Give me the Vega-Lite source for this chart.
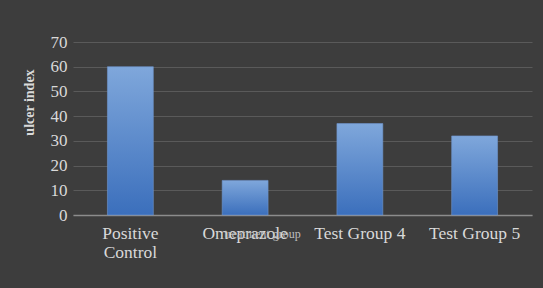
{
  "$schema": "https://vega.github.io/schema/vega-lite/v6.json",
  "width": 459,
  "height": 173,
  "autosize": {"type": "none"},
  "padding": {"left": 73, "top": 42, "right": 11, "bottom": 73},
  "background": "#3d3d3d",
  "config": {"view": {"stroke": null}},
  "data": {
    "values": [
      {"group": "Positive Control", "ulcer": 60},
      {"group": "Omeprazole", "ulcer": 14},
      {"group": "Test Group 4", "ulcer": 37},
      {"group": "Test Group 5", "ulcer": 32}
    ]
  },
  "mark": {
    "type": "bar",
    "color": {
      "gradient": "linear",
      "x1": 0, "y1": 0, "x2": 0, "y2": 1,
      "stops": [
        {"offset": 0, "color": "#7fa7db"},
        {"offset": 1, "color": "#3b6fbc"}
      ]
    },
    "stroke": "#6f95cc",
    "strokeWidth": 0.6
  },
  "encoding": {
    "x": {
      "field": "group",
      "type": "nominal",
      "sort": null,
      "scale": {"paddingInner": 0.6, "paddingOuter": 0.3},
      "axis": {
        "title": "treatment group",
        "titleFont": "Liberation Serif",
        "titleFontSize": 12,
        "titleFontWeight": "normal",
        "titleColor": "#bfbfbf",
        "titleX": 189,
        "titleY": 22,
        "titleBaseline": "alphabetic",
        "labelAngle": 0,
        "labelFont": "Liberation Serif",
        "labelFontSize": 17.5,
        "labelColor": "#d9d9d9",
        "labelPadding": 9,
        "labelLineHeight": 19,
        "labelBaseline": "top",
        "labelExpr": "datum.label == 'Positive Control' ? ['Positive', 'Control'] : datum.label",
        "ticks": false,
        "domainColor": "#8c8c8c",
        "domainWidth": 1.5
      }
    },
    "y": {
      "field": "ulcer",
      "type": "quantitative",
      "scale": {"domain": [0, 70]},
      "axis": {
        "title": "ulcer index",
        "titleFont": "Liberation Serif",
        "titleFontSize": 14,
        "titleFontWeight": "bold",
        "titleColor": "#d9d9d9",
        "titleX": -40,
        "titleY": 60,
        "titleBaseline": "alphabetic",
        "values": [0, 10, 20, 30, 40, 50, 60, 70],
        "labelFont": "Liberation Serif",
        "labelFontSize": 17,
        "labelColor": "#d9d9d9",
        "labelPadding": 6,
        "ticks": false,
        "domain": false,
        "gridColor": "#5a5a5a",
        "gridWidth": 1
      }
    }
  }
}
